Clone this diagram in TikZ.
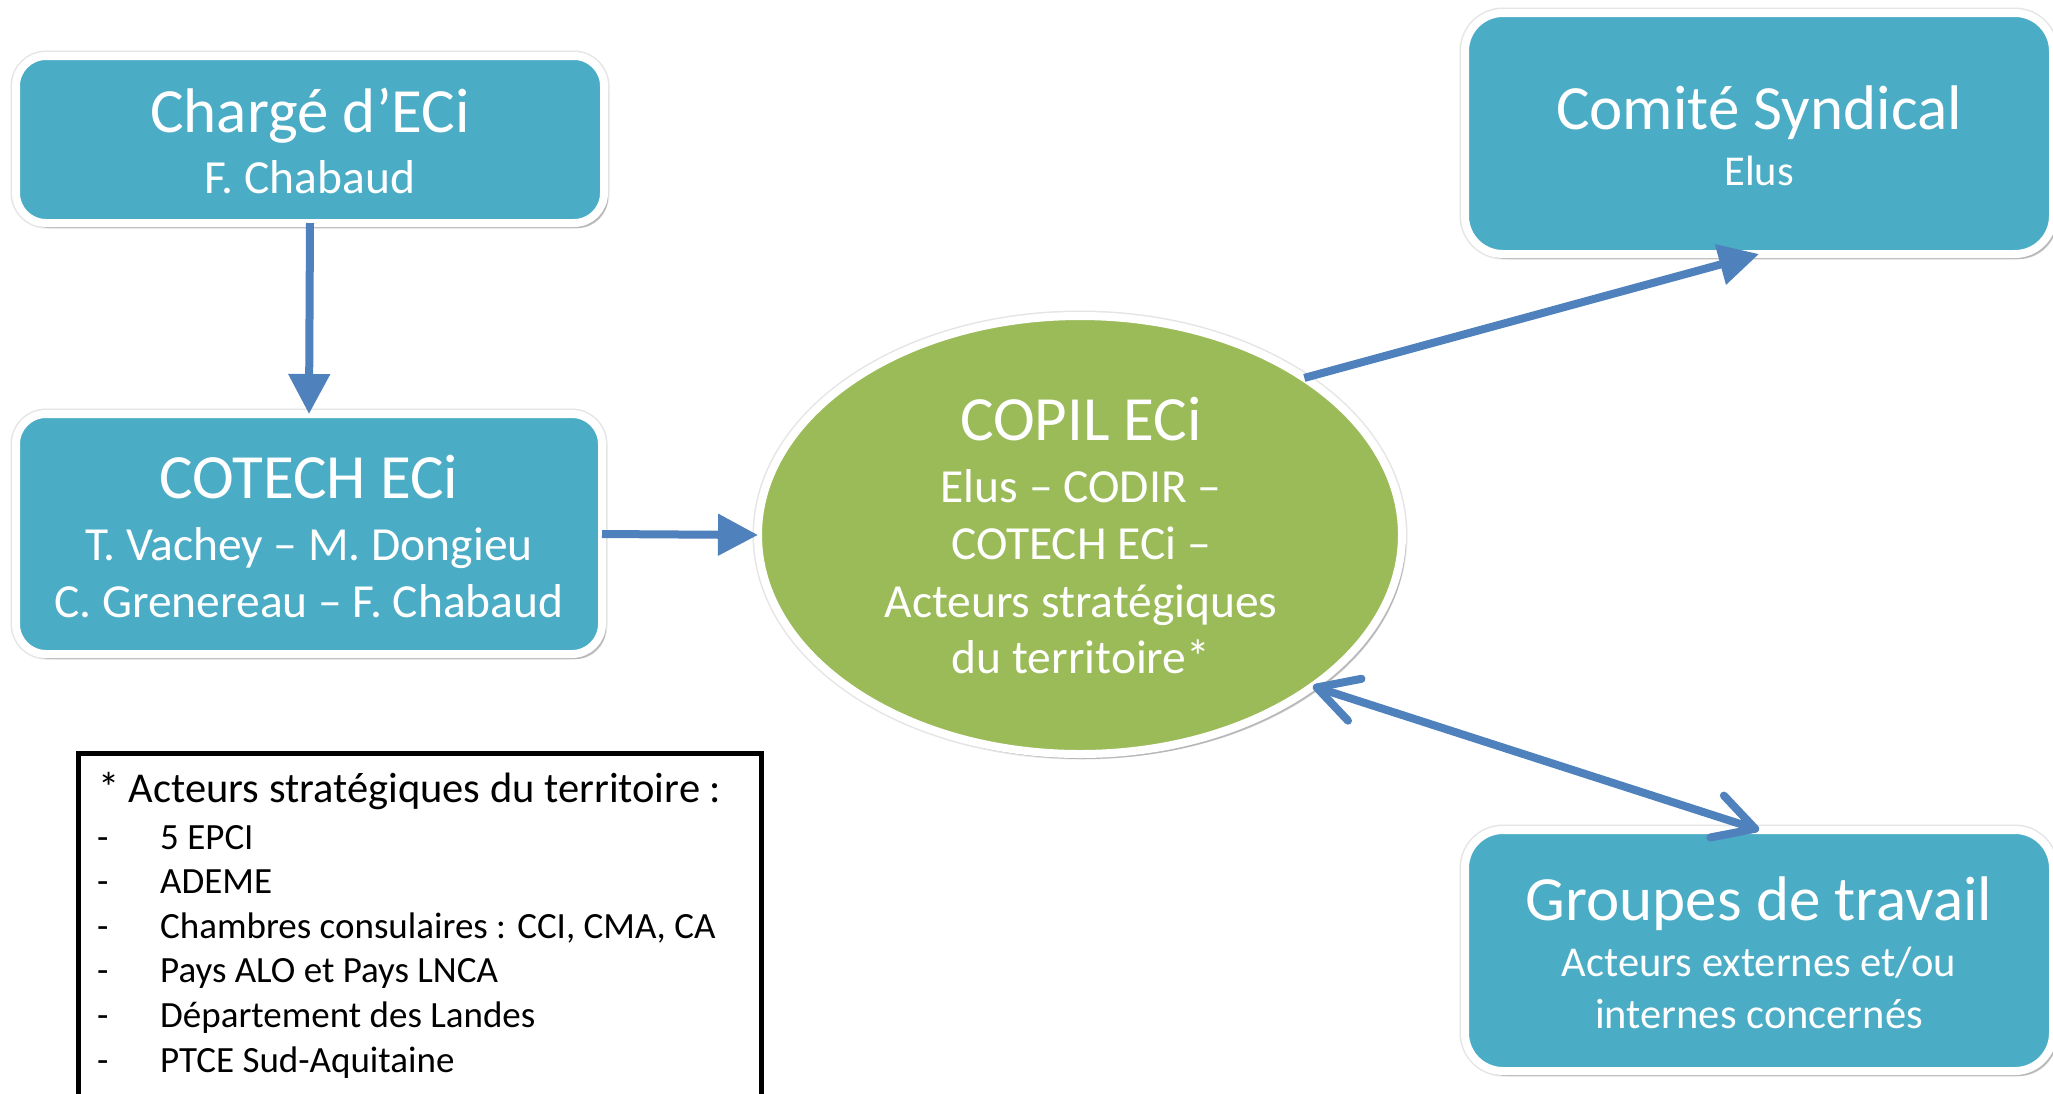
\documentclass[tikz,border=0pt]{standalone}
\usepackage{fontspec}
\setmainfont{Carlito}
\usetikzlibrary{arrows.meta,shapes.geometric,shadows}
\definecolor{boxblue}{HTML}{4BACC6}
\definecolor{copilgreen}{HTML}{9BBB59}
\definecolor{arrowblue}{HTML}{4F81BD}
\newcommand\myfs[1]{\fontsize{#1pt}{#1pt}\selectfont}
\tikzset{
  x=1pt, y=-1pt,
  rim/.style={preaction={draw=black!10, fill=none, line width=11pt}},
  orgbox/.style={rectangle, rounded corners=30pt, fill=boxblue, draw=white, line width=8pt,
    inner sep=0pt, outer sep=0pt, rim,
    drop shadow={shadow xshift=4pt, shadow yshift=-5pt, opacity=0.2, fill=black}},
  copilshape/.style={ellipse, fill=copilgreen, draw=white, line width=8pt, inner sep=0pt, outer sep=0pt,
    minimum width=644pt, minimum height=438pt, rim,
    drop shadow={shadow xshift=4pt, shadow yshift=-5pt, opacity=0.2, fill=black}},
  titletext/.style={anchor=base, text=white, inner sep=0pt, font=\myfs{63}},
  subtext/.style={anchor=base, text=white, inner sep=0pt, font=\myfs{47.5}},
  smalltext/.style={anchor=base, text=white, inner sep=0pt, font=\myfs{42.5}},
  legendhead/.style={anchor=base west, inner sep=0pt, font=\myfs{42.5}},
  legenditem/.style={anchor=base west, inner sep=0pt, font=\myfs{37}},
  flow/.style={draw=arrowblue, line width=8pt},
  filledtip/.style={-{Triangle[length=40pt,width=40pt]}},
  opentips/.style={{Straight Barb[length=40pt,width=44pt,round]}-{Straight Barb[length=40pt,width=44pt,round]}},
}
\begin{document}
\begin{tikzpicture}
\useasboundingbox[fill=white] (0,0) rectangle (2053,1093);

% boxes
\node[orgbox, minimum width=588pt, minimum height=167pt] (charge) at (310,139.5) {};
\node[orgbox, minimum width=586pt, minimum height=240pt] (cotech) at (309,534) {};
\node[orgbox, rounded corners=38pt, minimum width=588pt, minimum height=241pt] (comite) at (1759,133.5) {};
\node[orgbox, rounded corners=38pt, minimum width=588pt, minimum height=241pt] (groupes) at (1759,950.5) {};
\node[copilshape] (copil) at (1080,535) {};

% texts in boxes
\node[titletext] (chargeT) at (310,132) {Chargé d’ECi};
\node[subtext] (chargeS) at (310,193) {F. Chabaud};

\node[titletext] (cotechT) at (309,498) {COTECH ECi};
\node[subtext] (cotechS1) at (309,560) {T. Vachey – M. Dongieu};
\node[subtext] (cotechS2) at (309,617) {C. Grenereau – F. Chabaud};

\node[titletext] (comiteT) at (1759,129) {Comité Syndical};
\node[smalltext] (comiteS) at (1759,185) {Elus};

\node[titletext] (groupesT) at (1759,920) {Groupes de travail};
\node[smalltext] (groupesS1) at (1759,976) {Acteurs externes et/ou};
\node[smalltext] (groupesS2) at (1759,1028) {internes concernés};

\node[titletext] (copilT) at (1081,440) {COPIL ECi};
\node[subtext] (copilS1) at (1081,502) {Elus – CODIR –};
\node[subtext] (copilS2) at (1081,559) {COTECH ECi –};
\node[subtext] (copilS3) at (1081,617) {Acteurs stratégiques};
\node[subtext] (copilS4) at (1081,673) {du territoire*};

% connectors
\draw[flow, filledtip] (charge.south) -- (cotech.north);
\draw[flow, filledtip] (cotech.east) -- (copil.west);
\draw[flow, filledtip] (copil.35) -- (comite.south);
\draw[flow, opentips] (copil.-33) -- (groupes.north);

% legend
\node[draw=black, line width=5pt, inner sep=0pt, minimum width=683pt, minimum height=380pt] (legend) at (419.5,943) {};
\node[legendhead] (lh) at (98,802) {* Acteurs stratégiques du territoire :};
\foreach \i/\t in {0/5 EPCI, 1/ADEME, 2/Chambres consulaires : CCI{,} CMA{,} CA, 3/Pays ALO et Pays LNCA, 4/Département des Landes, 5/PTCE Sud-Aquitaine}{
  \node[legenditem] (ld\i) at (97,849+44.6*\i) {-};
  \node[legenditem] (li\i) at (160,849+44.6*\i) {\t};
}
\end{tikzpicture}
\end{document}
